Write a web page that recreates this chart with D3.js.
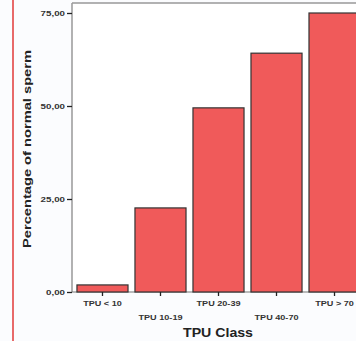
<!DOCTYPE html>
<html><head><meta charset="utf-8">
<script src="https://cdn.jsdelivr.net/npm/d3@7/dist/d3.min.js"></script>
<style>body{margin:0;background:#fbfcfe}svg{display:block}</style>
</head><body>
<script>
const categories = ["TPU < 10", "TPU 10-19", "TPU 20-39", "TPU 40-70", "TPU > 70"];
const values = [1.9, 22.6, 49.5, 64.2, 75.0];
const yTicks = [0, 25, 50, 75];
const yTickLabels = ["0,00", "25,00", "50,00", "75,00"];

(function () {
const W = 356, H = 341;
const FONT = "Liberation Sans, Arial, sans-serif";
const svg = d3.select("body").append("svg").attr("width", W).attr("height", H);

function stretch(sel, k) {
  sel.each(function () {
    const L = this.getComputedTextLength();
    d3.select(this).attr("textLength", L * k).attr("lengthAdjust", "spacingAndGlyphs");
  });
}

// red margin line
svg.append("line").attr("x1", 13).attr("x2", 13).attr("y1", 0).attr("y2", H)
  .attr("stroke", "#e86a6a").attr("stroke-width", 2);

const x = d3.scaleBand().domain(categories).range([70, 367]).paddingInner(0.12).paddingOuter(0.12);
const y = d3.scaleLinear().domain([0, 75]).range([292, 13]);

const frameTop = 3;
svg.append("rect").attr("x", 72).attr("y", frameTop).attr("width", W - 72).attr("height", y(0) - frameTop).attr("fill", "#fff");

svg.append("line").attr("x1", 72).attr("x2", W).attr("y1", frameTop).attr("y2", frameTop).attr("stroke", "#999").attr("stroke-width", 1.5);
svg.append("line").attr("x1", 72).attr("x2", 72).attr("y1", frameTop).attr("y2", y(0)).attr("stroke", "#999").attr("stroke-width", 1.5);
svg.append("line").attr("x1", 72).attr("x2", W).attr("y1", y(0)).attr("y2", y(0)).attr("stroke", "#777").attr("stroke-width", 1.2);

svg.selectAll("rect.bar").data(values).join("rect").attr("class", "bar")
  .attr("x", (d, i) => x(categories[i]))
  .attr("y", d => y(d))
  .attr("width", x.bandwidth())
  .attr("height", d => y(0) - y(d))
  .attr("fill", "#f05a5a").attr("stroke", "#333").attr("stroke-width", 1.2);

const yAxis = d3.axisLeft(y).tickValues(yTicks).tickSize(5).tickPadding(2).tickFormat((d, i) => yTickLabels[i]);
const ga = svg.append("g").attr("transform", "translate(72,0)").call(yAxis);
ga.select(".domain").remove();
ga.selectAll("line").attr("stroke", "#222").attr("stroke-width", 1.3);
ga.selectAll("text").attr("font-family", FONT).attr("font-size", 6.5).attr("font-weight", "bold").attr("fill", "#333");
stretch(ga.selectAll("text"), 1.5);

const xAxis = d3.axisBottom(x).tickSize(4).tickFormat(d => d);
const gx = svg.append("g").attr("transform", `translate(0,${y(0)})`).call(xAxis);
gx.select(".domain").remove();
gx.selectAll("line").attr("stroke", "#222").attr("stroke-width", 1.3);
gx.selectAll("text").attr("font-family", FONT).attr("font-size", 6.5).attr("font-weight", "bold").attr("fill", "#333")
  .attr("y", (d, i) => i % 2 === 0 ? 9 : 23);
stretch(gx.selectAll("text"), 1.4);

const xt = svg.append("text").attr("x", 218).attr("y", 337).attr("text-anchor", "middle")
  .attr("font-family", FONT).attr("font-size", 13).attr("font-weight", "bold").attr("fill", "#222")
  .text("TPU Class");
xt.attr("textLength", 70).attr("lengthAdjust", "spacingAndGlyphs");
const yt = svg.append("text").attr("transform", "translate(31,149) rotate(-90)").attr("text-anchor", "middle")
  .attr("font-family", FONT).attr("font-size", 10.5).attr("font-weight", "bold").attr("fill", "#222")
  .text("Percentage of normal sperm");
yt.attr("textLength", 198).attr("lengthAdjust", "spacingAndGlyphs");
})();
</script>
</body></html>
